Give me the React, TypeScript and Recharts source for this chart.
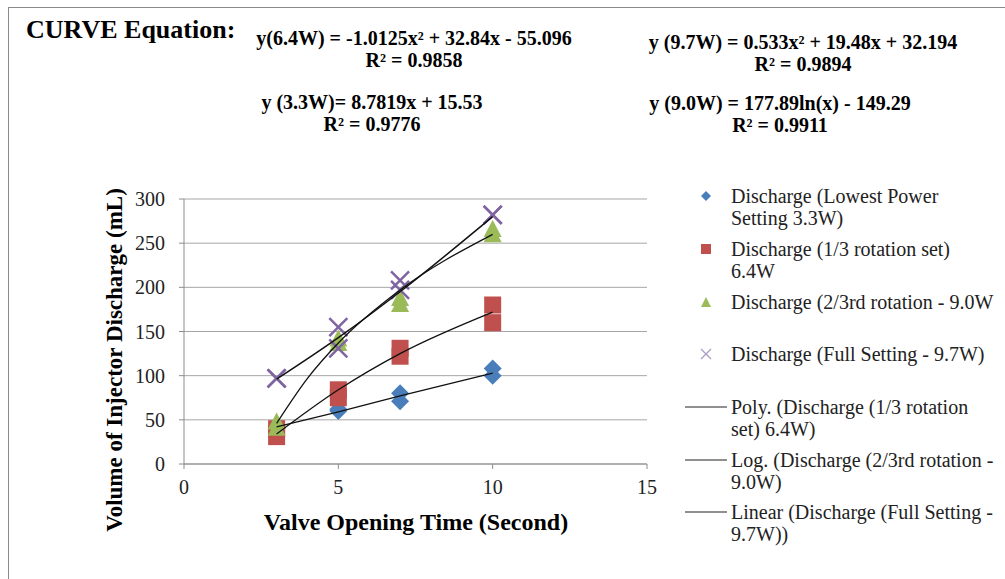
import React from "react";
import {
  ScatterChart,
  Scatter,
  XAxis,
  YAxis,
  CartesianGrid,
} from "recharts";

// replicate readings, x = valve opening time (s)
const pointX = [3, 3, 5, 5, 7, 7, 10, 10];
const discharge33W = [40, 43, 60, 62, 71, 80, 100, 108];
const discharge64W = [31, 40, 75, 84, 122, 131, 160, 180];
const discharge90W = [41, 48, 137, 142, 181, 188, 260, 266];
const discharge97W = [97, 97, 131, 155, 197, 208, 282, 282];

// trendlines
const trendX = [3, 5, 7, 10];
const trend33W = [42, 59, 77, 103];
const trend64W = [34, 84, 125, 172];
const trend97W = [96, 143, 195, 280];
const logX = [3, 4, 5, 7, 10];
const trend90W = [46, 97, 137, 197, 260];

const xTicks = [0, 5, 10, 15];
const yTicks = [0, 50, 100, 150, 200, 250, 300];

const equations = [
  { eq: "y(6.4W) = -1.0125x² + 32.84x - 55.096", r2: "R² = 0.9858", cx: 414, y: 38 },
  { eq: "y (9.7W) = 0.533x² + 19.48x + 32.194", r2: "R² = 0.9894", cx: 803, y: 42 },
  { eq: "y (3.3W)= 8.7819x + 15.53", r2: "R² = 0.9776", cx: 372, y: 102 },
  { eq: "y (9.0W) = 177.89ln(x) - 149.29", r2: "R² = 0.9911", cx: 780, y: 103 },
];

const BLUE = "#4a7ebb";
const RED = "#c0504d";
const GREEN = "#9bbb59";
const PURPLE = "#8064a2";

const toPoints = (xs: number[], ys: number[]) =>
  ys.map((y, i) => ({ x: xs[i], y }));

const Diamond = (p: any) => (
  <polygon
    points={`${p.cx},${p.cy - 9} ${p.cx + 9},${p.cy} ${p.cx},${p.cy + 9} ${p.cx - 9},${p.cy}`}
    fill={BLUE}
  />
);
const Square = (p: any) => (
  <rect x={p.cx - 8.5} y={p.cy - 8.5} width={17} height={17} fill={RED} />
);
const Triangle = (p: any) => (
  <polygon
    points={`${p.cx},${p.cy - 9} ${p.cx + 9},${p.cy + 8} ${p.cx - 9},${p.cy + 8}`}
    fill={GREEN}
  />
);
const Cross = (p: any) => (
  <g stroke={PURPLE} strokeWidth={2.5}>
    <line x1={p.cx - 9} y1={p.cy - 9} x2={p.cx + 9} y2={p.cy + 9} />
    <line x1={p.cx - 9} y1={p.cy + 9} x2={p.cx + 9} y2={p.cy - 9} />
  </g>
);
const NoDot = () => <g />;

const legendItems = [
  { kind: "diamond", lines: ["Discharge (Lowest Power", "Setting 3.3W)"], y: 185 },
  { kind: "square", lines: ["Discharge (1/3 rotation set)", "6.4W"], y: 238 },
  { kind: "triangle", lines: ["Discharge (2/3rd rotation - 9.0W"], y: 291 },
  { kind: "cross", lines: ["Discharge (Full Setting - 9.7W)"], y: 343 },
  { kind: "line", lines: ["Poly. (Discharge (1/3 rotation", "set) 6.4W)"], y: 396 },
  { kind: "line", lines: ["Log. (Discharge (2/3rd rotation -", "9.0W)"], y: 449 },
  { kind: "line", lines: ["Linear (Discharge (Full Setting -", "9.7W))"], y: 501 },
];

function LegendMark({ kind }: { kind: string }) {
  return (
    <svg width={46} height={22} style={{ position: "absolute", left: -46, top: 0 }}>
      {kind === "diamond" && <polygon points="21,6 26,11 21,16 16,11" fill={BLUE} />}
      {kind === "square" && <rect x={16} y={6} width={10} height={10} fill={RED} />}
      {kind === "triangle" && <polygon points="21,6 26,16 16,16" fill={GREEN} />}
      {kind === "cross" && (
        <g stroke="#a99bc4" strokeWidth={1.2}>
          <line x1={16} y1={6} x2={26} y2={16} />
          <line x1={16} y1={16} x2={26} y2={6} />
        </g>
      )}
      {kind === "line" && <line x1={0} y1={11} x2={42} y2={11} stroke="#222" strokeWidth={1.2} />}
    </svg>
  );
}

export default function App() {
  return (
    <div
      style={{
        position: "absolute",
        left: 0,
        top: 0,
        width: 1005,
        height: 579,
        overflow: "hidden",
        background: "#fff",
        fontFamily: '"Liberation Serif", "Times New Roman", serif',
        color: "#000",
      }}
    >
      <div
        style={{
          position: "absolute",
          left: 8,
          top: 7,
          width: 1100,
          height: 700,
          border: "1px solid #8a8a8a",
        }}
      />
      <div
        style={{
          position: "absolute",
          left: 26,
          top: 14,
          fontSize: 26,
          fontWeight: "bold",
          lineHeight: "32px",
          whiteSpace: "nowrap",
        }}
      >
        CURVE Equation:
      </div>
      {equations.map((e) => (
        <div
          key={e.eq}
          style={{
            position: "absolute",
            left: e.cx - 200,
            width: 400,
            top: e.y - 11,
            textAlign: "center",
            fontSize: 20,
            fontWeight: "bold",
            lineHeight: "22px",
            whiteSpace: "nowrap",
          }}
        >
          {e.eq}
          <br />
          {e.r2}
        </div>
      ))}

      <div style={{ position: "absolute", left: 0, top: 0 }}>
        <ScatterChart
          width={1005}
          height={579}
          margin={{ top: 199, right: 358, bottom: 75, left: 124 }}
        >
          <CartesianGrid vertical={false} stroke="#a6a6a6" strokeWidth={1} />
          <XAxis
            type="number"
            dataKey="x"
            domain={[0, 15]}
            ticks={xTicks}
            height={40}
            tickSize={5}
            tickMargin={11}
            stroke="#8c8c8c"
            tick={{ fontSize: 20, fill: "#222" }}
          />
          <YAxis
            type="number"
            dataKey="y"
            domain={[0, 300]}
            ticks={yTicks}
            width={60}
            tickSize={5}
            tickMargin={14}
            stroke="#8c8c8c"
            tick={{ fontSize: 20, fill: "#222" }}
          />
          <Scatter data={toPoints(pointX, discharge33W)} shape={Diamond} isAnimationActive={false} />
          <Scatter data={toPoints(pointX, discharge64W)} shape={Square} isAnimationActive={false} />
          <Scatter data={toPoints(pointX, discharge90W)} shape={Triangle} isAnimationActive={false} />
          <Scatter data={toPoints(pointX, discharge97W)} shape={Cross} isAnimationActive={false} />
          <Scatter
            data={toPoints(trendX, trend33W)}
            shape={NoDot}
            line={{ stroke: "#111", strokeWidth: 1.3 }}
            lineJointType="linear"
            isAnimationActive={false}
          />
          <Scatter
            data={toPoints(trendX, trend64W)}
            shape={NoDot}
            line={{ stroke: "#111", strokeWidth: 1.3 }}
            lineJointType="monotoneX"
            isAnimationActive={false}
          />
          <Scatter
            data={toPoints(logX, trend90W)}
            shape={NoDot}
            line={{ stroke: "#111", strokeWidth: 1.3 }}
            lineJointType="monotoneX"
            isAnimationActive={false}
          />
          <Scatter
            data={toPoints(trendX, trend97W)}
            shape={NoDot}
            line={{ stroke: "#111", strokeWidth: 1.5 }}
            lineJointType="monotoneX"
            isAnimationActive={false}
          />
        </ScatterChart>
      </div>

      <div
        style={{
          position: "absolute",
          left: 115,
          top: 360,
          transform: "translate(-50%, -50%) rotate(-90deg)",
          fontSize: 23,
          fontWeight: "bold",
          whiteSpace: "nowrap",
        }}
      >
        Volume of Injector Discharge (mL)
      </div>
      <div
        style={{
          position: "absolute",
          left: 416,
          top: 522,
          transform: "translate(-50%, -50%)",
          fontSize: 24,
          fontWeight: "bold",
          whiteSpace: "nowrap",
        }}
      >
        Valve Opening Time (Second)
      </div>

      {legendItems.map((it, i) => (
        <div
          key={i}
          style={{
            position: "absolute",
            left: 731,
            top: it.y,
            fontSize: 20,
            lineHeight: "22px",
            whiteSpace: "nowrap",
            color: "#222",
          }}
        >
          <LegendMark kind={it.kind} />
          {it.lines.map((l, j) => (
            <div key={j}>{l}</div>
          ))}
        </div>
      ))}
    </div>
  );
}
